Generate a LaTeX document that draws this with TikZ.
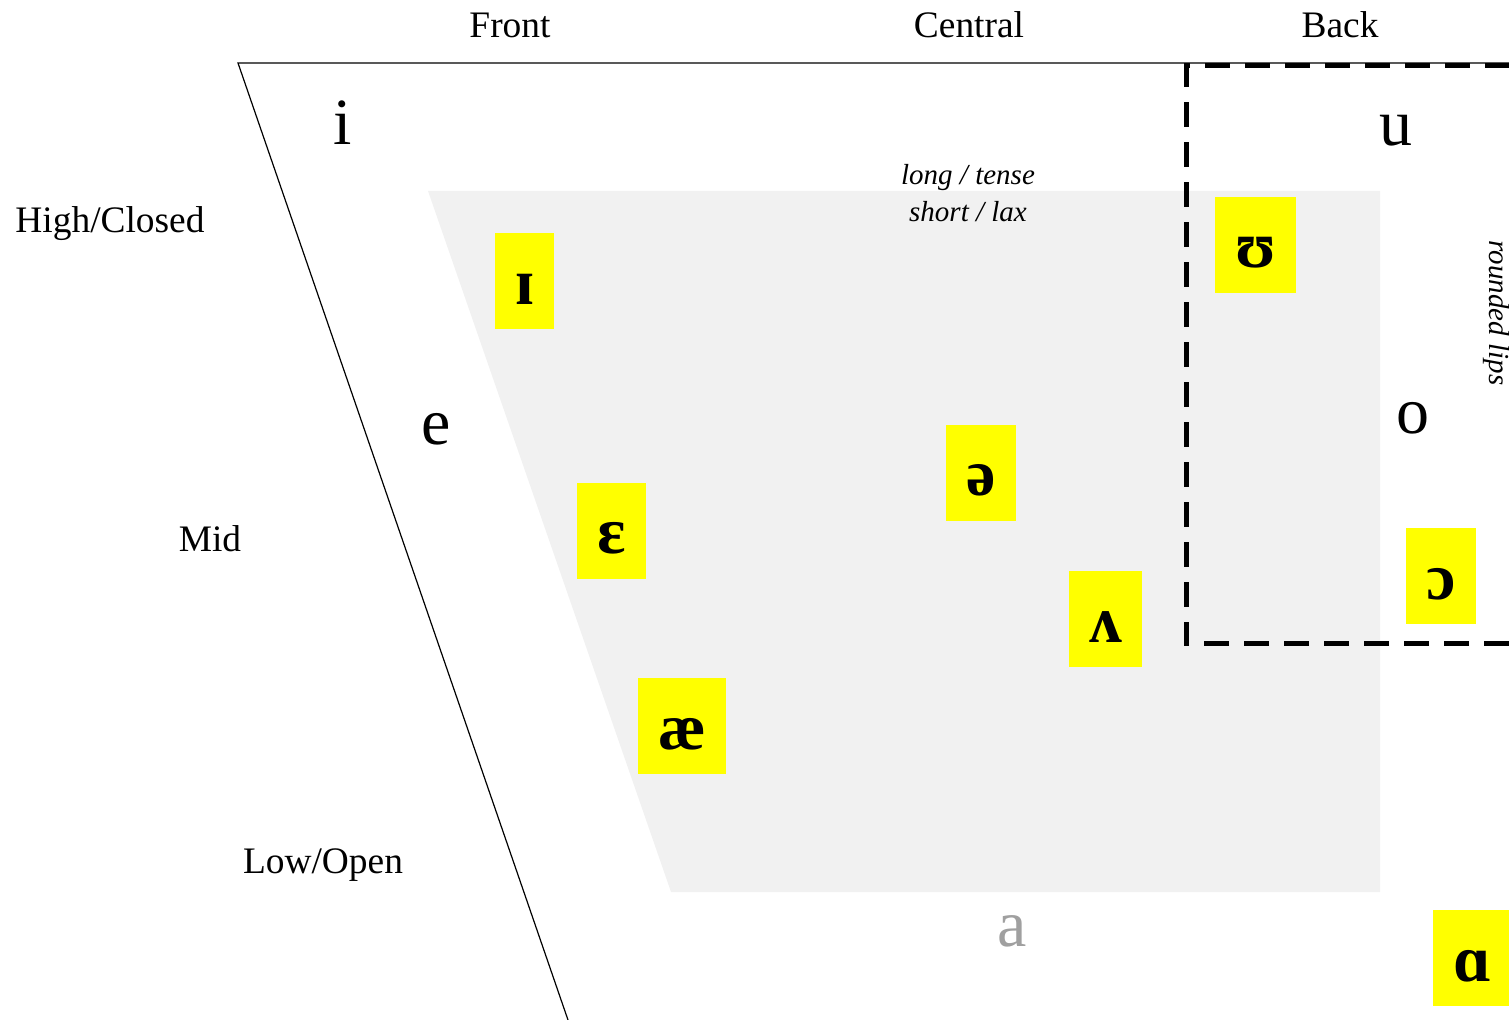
\documentclass[tikz,border=0pt]{standalone}
\usepackage{fontspec}
\setmainfont{Liberation Serif}
\definecolor{lightgray}{RGB}{241,241,241}
\definecolor{midgray}{RGB}{160,160,160}
\definecolor{laxyellow}{RGB}{255,255,0}
\tikzset{
	vowel/.style={text=black, font=\fontsize{33}{33}\selectfont, inner sep=0pt},
	lax/.style={fill=laxyellow, text=black, font=\fontsize{33}{33}\selectfont\bfseries, inner xsep=10pt, inner ysep=0pt, text height=35.5pt, text depth=12.5pt},
	axislabel/.style={text=black, font=\fontsize{18.7}{18.7}\selectfont, inner sep=0pt},
	note/.style={text=black, font=\fontsize{14.5}{16}\selectfont\itshape, inner sep=0pt}
}
\begin{document}
\begin{tikzpicture}[x=0.5pt, y=-0.5pt]
	\useasboundingbox (0,0) rectangle (1509,1020);

	% short / lax area
	\fill[lightgray] (428,191) -- (1380,191) -- (1380,892) -- (671,892) -- cycle;

	% outline of the chart
	\draw[black, line width=0.6pt] (568,1020) -- (238,63) -- (1509,63);

	% rounded lips
	\draw[black, line width=2.5pt, dash pattern=on 12.5pt off 7.5pt] (1509,644) -- (1186,644) -- (1186,66) -- (1509,66);

	\node[axislabel] (front) at (510,25) {Front};
	\node[axislabel] (central) at (969,25) {Central};
	\node[axislabel] (back) at (1340,25) {Back};
	\node[axislabel] (high) at (110,224) {High/Closed};
	\node[axislabel] (mid) at (210,539) {Mid};
	\node[axislabel] (low) at (323,865) {Low/Open};

	\node[note] (long) at (968,178) {long / tense};
	\node[note] (short) at (968,212) {short / lax};
	\node[note, rotate=-90] (lips) at (1496,313) {rounded lips};

	\node[vowel] (v_i) at (343,123) {i};
	\node[vowel] (v_e) at (436,429) {e};
	\node[vowel] (v_u) at (1396,131) {u};
	\node[vowel] (v_o) at (1413,418) {o};
	\node[vowel, text=midgray] (v_a) at (1012,931) {a};

	\node[lax] (l_ih) at (524.5,281.5) {ɪ};
	\node[lax] (l_uh) at (1255.5,245) {ʊ};
	\node[lax] (l_schwa) at (981,473) {ə};
	\node[lax] (l_eh) at (611.5,531) {ɛ};
	\node[lax] (l_wedge) at (1105.5,619.5) {ʌ};
	\node[lax] (l_oh) at (1441,576.5) {ɔ};
	\node[lax] (l_ae) at (682,726) {æ};
	\node[lax] (l_ah) at (1472,958) {ɑ};
\end{tikzpicture}
\end{document}
